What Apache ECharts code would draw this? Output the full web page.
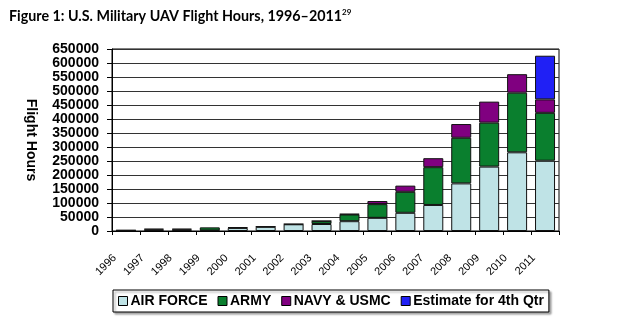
<!DOCTYPE html>
<html>
<head>
<meta charset="utf-8">
<script src="https://cdn.jsdelivr.net/npm/echarts@6/dist/echarts.min.js"></script>
<style>
html,body{margin:0;padding:0;background:#fff;}
#c{width:617px;height:333px;}
</style>
</head>
<body>
<div id="c"></div>
<script>
var years = ['1996','1997','1998','1999','2000','2001','2002','2003','2004','2005','2006','2007','2008','2009','2010','2011'];
var airForce = [2000, 5000, 5000, 2000, 11000, 15000, 24000, 25000, 35000, 47000, 65000, 93000, 170000, 230000, 281000, 251000];
var army =     [1000, 3000, 3000, 11000, 2000, 1000, 1000, 10000, 24000, 49000, 75000, 135000, 163000, 157000, 213000, 171000];
var navy =     ['-', '-', '-', '-', '-', '-', '-', 1000, 2000, 11000, 22000, 32000, 49000, 75000, 66000, 48000];
var estimate = ['-', '-', '-', '-', '-', '-', '-', '-', '-', '-', '-', '-', '-', '-', '-', 156000];
var seriesNames = ['AIR FORCE', 'ARMY', 'NAVY & USMC', 'Estimate for 4th Qtr'];
var yTicks = {min: 0, max: 650000, interval: 50000};

var colors = ['#BFE3E6', '#0A7F2E', '#800080', '#2020F5'];
var chart = echarts.init(document.getElementById('c'), null, {renderer: 'canvas'});
var dataSets = [airForce, army, navy, estimate];
var series = dataSets.map(function (d, i) {
  return {
    name: seriesNames[i],
    type: 'bar',
    stack: 'total',
    data: d,
    barWidth: 20,
    itemStyle: {color: colors[i], borderColor: '#111', borderWidth: 1}
  };
});

chart.setOption({
  animation: false,
  title: {
    text: '{a|Figure 1: U.S. Military UAV Flight Hours, 1996\u20132011}{s|29}',
    left: 4, top: 3,
    textStyle: {
      rich: {
        a: {fontFamily: 'Lato', fontWeight: 'bold', fontSize: 14.3, color: '#000'},
        s: {fontFamily: 'Lato', fontWeight: 'bold', fontSize: 8, color: '#000', padding: [0, 0, 8, 0]}
      }
    }
  },
  grid: {left: 112, right: 58, top: 49, bottom: 102, show: true, borderColor: '#000', borderWidth: 1},
  legend: {
    data: seriesNames,
    left: 113, top: 290,
    itemWidth: 9, itemHeight: 9, itemGap: 10,
    icon: 'rect',
    padding: [4, 5, 4, 5],
    borderColor: '#000', borderWidth: 1,
    backgroundColor: '#fff',
    shadowColor: 'rgba(0,0,0,0.35)', shadowOffsetX: 2, shadowOffsetY: 2, shadowBlur: 2,
    itemStyle: {borderColor: '#000', borderWidth: 1},
    textStyle: {fontFamily: 'Liberation Sans', fontWeight: 'bold', fontSize: 14, color: '#000', padding: [0, 0, 0, -2]}
  },
  xAxis: {
    type: 'category',
    data: years,
    axisLine: {lineStyle: {color: '#000', width: 1}},
    axisTick: {show: true, length: 4, lineStyle: {color: '#000'}},
    axisLabel: {rotate: 45, margin: 14, padding: [0, 16, 0, 0], fontFamily: 'Liberation Sans', fontSize: 11, color: '#000', interval: 0}
  },
  yAxis: {
    type: 'value',
    min: yTicks.min, max: yTicks.max, interval: yTicks.interval,
    name: 'Flight Hours',
    nameLocation: 'middle',
    nameRotate: -90,
    nameGap: 74,
    nameTextStyle: {fontFamily: 'Liberation Sans', fontWeight: 'bold', fontSize: 14, color: '#000'},
    axisLine: {show: true, lineStyle: {color: '#000'}},
    axisTick: {show: true, length: 5, lineStyle: {color: '#000'}},
    axisLabel: {margin: 13, formatter: function (v) { return String(v); }, fontFamily: 'Liberation Sans', fontWeight: 'bold', fontSize: 14, color: '#000'},
    splitLine: {show: true, lineStyle: {color: '#333', width: 1}}
  },
  series: series
});
</script>
</body>
</html>
